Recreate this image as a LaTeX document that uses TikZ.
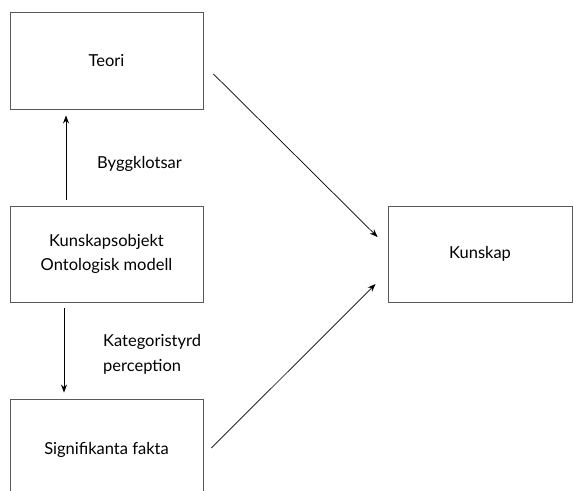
\documentclass[tikz,border=0pt]{standalone}
\usepackage{fontspec}
\setmainfont{Lato}
\usetikzlibrary{arrows.meta}
\begin{document}
\begin{tikzpicture}[x=1pt,y=-1pt,
  box/.style={draw=black!65, line width=0.9pt, rectangle, align=center, inner sep=0pt,
    font=\fontsize{16.5}{24}\selectfont, text=black},
  lbl/.style={align=left, inner sep=0pt, font=\fontsize{16.5}{25}\selectfont, text=black},
  arr/.style={-{Stealth[length=8pt,width=6pt]}, line width=0.7pt}]
\useasboundingbox (0,0) rectangle (573,490);
\fill[white] (0,0) rectangle (573,490);
\begin{scope}
\clip (0,0) rectangle (573,490);
\node[box, minimum width=193pt, minimum height=97pt] (teori) at (106.5,60.5) {Teori};
\node[box, minimum width=193pt, minimum height=96pt] (obj) at (106.5,254) {Kunskapsobjekt\\Ontologisk modell};
\node[box, minimum width=193pt, minimum height=102pt] (sig) at (106.5,450) {Signifikanta fakta};
\node[box, minimum width=184pt, minimum height=96pt] (kun) at (480,254) {Kunskap};
\node[lbl, anchor=base west] (byg) at (97,168) {Byggklotsar};
\node[lbl, anchor=base west] (kat) at (103,371.7) {Kategoristyrd\\perception};
\draw[arr] ([xshift=-40.5pt,yshift=6pt]obj.north) -- ([xshift=-40.5pt,yshift=-6pt]teori.south);
\draw[arr] ([xshift=-42.5pt,yshift=-6pt]obj.south) -- ([xshift=-42.5pt,yshift=6pt]sig.north);
\draw[arr] ([xshift=10pt,yshift=-13.5pt]teori.east) -- ([xshift=-10pt,yshift=17pt]kun.west);
\draw[arr] ([xshift=8pt,yshift=2pt]sig.east) -- ([xshift=-12pt,yshift=-30pt]kun.west);
\end{scope}
\end{tikzpicture}
\end{document}
